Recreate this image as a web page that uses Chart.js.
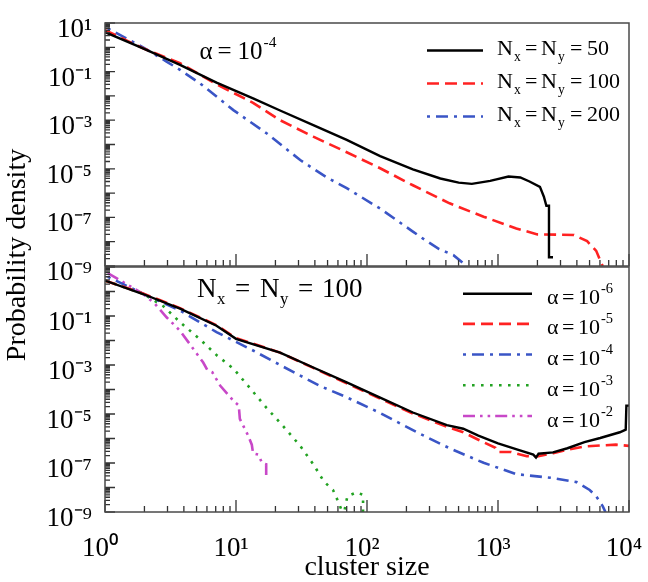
<!DOCTYPE html>
<html>
<head>
<meta charset="utf-8">
<title>Cluster size distributions</title>
<script src="https://cdn.jsdelivr.net/npm/chart.js@4.4.1/dist/chart.umd.min.js"></script>
<style>
html, body { margin:0; padding:0; background:#ffffff; }
#wrap { position:relative; width:648px; height:582px; overflow:hidden; background:#ffffff; }
#wrap canvas { position:absolute; left:0; top:0; }
</style>
</head>
<body>
<div id="wrap">
  <canvas id="bottomPanel" width="648" height="582" style="width:648px;height:582px"></canvas>
  <canvas id="topPanel" width="648" height="300" style="width:648px;height:300px"></canvas>
</div>
<script>
// ---------------- DATA ----------------
// tick labels (powers of ten)
const xTickExps = [0, 1, 2, 3, 4];
const yTickExpsTop = [1, -1, -3, -5, -7, -9];
const yTickExpsBottom = [-1, -3, -5, -7, -9];
const yDecades = [1, 0, -1, -2, -3, -4, -5, -6, -7, -8, -9];

// legend / annotation values
const topLatticeSizes = [50, 100, 200];
const topAlphaExp = -4;
const bottomLatticeSize = 100;
const bottomAlphaExps = [-6, -5, -4, -3, -2];

// top panel, alpha = 1e-4
const sizeTopN50 = [1, 1.95, 3.74, 7.1, 13.5, 21.7, 38.9, 70, 126, 224, 363, 501, 631, 871, 1202, 1480, 1740, 2090, 2240, 2340, 2450, 2450, 2630];
const probTopN50 = [4.2, 0.91, 0.19, 0.035, 7.9e-3, 2.5e-3, 6.3e-4, 1.55e-4, 3.3e-5, 9.5e-6, 4.0e-6, 2.7e-6, 2.4e-6, 3.2e-6, 4.8e-6, 4.4e-6, 3.0e-6, 1.8e-6, 7.1e-7, 3.0e-7, 3.0e-7, 2.3e-9, 2.3e-9];

const sizeTopN100 = [1, 1.95, 3.74, 7.1, 13.5, 21.7, 38.9, 70, 126, 224, 427, 776, 1380, 2000, 3800, 4790, 5620, 6170, 6310];
const probTopN100 = [5.1, 0.91, 0.22, 0.030, 5.2e-3, 1.0e-3, 2.1e-4, 4.8e-5, 1.05e-5, 2.1e-6, 3.8e-7, 1.07e-7, 3.5e-8, 2.0e-8, 1.9e-8, 1.05e-8, 4.2e-9, 1.26e-9, 1e-9];

const sizeTopN200 = [1.05, 1.95, 2.95, 3.74, 5.31, 9.55, 17.1, 30.9, 49, 70, 126, 224, 282, 355, 457, 575];
const probTopN200 = [6.0, 1.0, 0.26, 0.117, 0.033, 2.6e-3, 2.9e-4, 2.3e-5, 4.5e-6, 1.6e-6, 2.3e-7, 2.6e-8, 1.1e-8, 5.0e-9, 2.8e-9, 1e-9];

// bottom panel, Nx = Ny = 100
const sizeBotA6 = [1, 1.95, 3.74, 7.1, 10, 21.7, 38.9, 70, 126, 224, 407, 543, 708, 1000, 1410, 1860, 1950, 2040, 2630, 3390, 4570, 6030, 8510, 9440, 9550, 10000];
const probBotA6 = [2.8, 0.79, 0.2, 0.04, 0.0117, 3.2e-3, 7.9e-4, 1.95e-4, 4.7e-5, 1.15e-5, 3.5e-6, 2.5e-6, 1.3e-6, 6.3e-7, 3.5e-7, 2.2e-7, 1.66e-7, 2.4e-7, 2.7e-7, 4.0e-7, 7.1e-7, 1.05e-6, 1.8e-6, 2.3e-6, 2.2e-5, 2.2e-5];

const sizeBotA5 = [1, 1.95, 3.74, 7.1, 10, 21.7, 38.9, 70, 126, 224, 407, 543, 708, 955, 1000, 1260, 1660, 1950, 2630, 3390, 4570, 6030, 7940, 10000];
const probBotA5 = [2.8, 0.83, 0.21, 0.042, 0.0126, 3.2e-3, 7.6e-4, 1.8e-4, 4.3e-5, 1.05e-5, 3.0e-6, 1.8e-6, 8.9e-7, 4.2e-7, 2.8e-7, 2.8e-7, 1.9e-7, 1.8e-7, 2.5e-7, 3.5e-7, 4.7e-7, 5.2e-7, 5.6e-7, 5.0e-7];

const sizeBotA4 = [1.05, 1.95, 3.74, 7.1, 13.5, 21.7, 43.7, 70, 126, 251, 427, 776, 1380, 2510, 3980, 5010, 5620, 6310, 6610];
const probBotA4 = [4.0, 0.81, 0.166, 0.022, 3.9e-3, 1.0e-3, 1.4e-4, 4.8e-5, 1.1e-5, 1.6e-6, 4.0e-7, 1.02e-7, 3.5e-8, 2.5e-8, 1.66e-8, 7.9e-9, 4.4e-9, 1.7e-9, 1e-9];

const sizeBotA3 = [1, 1.95, 2.79, 3.74, 5.31, 7.13, 9.55, 12.6, 17.1, 22.9, 30.9, 38.9, 46.8, 55, 61.7, 64.6, 66, 67.6, 70.8, 83.2, 93.3, 93.3];
const probBotA3 = [2.8, 0.81, 0.25, 0.056, 0.0112, 2.5e-3, 7.1e-4, 1.26e-4, 1.78e-5, 3.2e-6, 5.0e-7, 8.9e-8, 1.78e-8, 7.9e-9, 2.0e-9, 1e-9, null, 1.26e-9, 4.4e-9, 6.3e-9, 5.0e-9, 1e-9];

const sizeBotA2 = [1.05, 1.95, 2.4, 2.95, 3.74, 4.73, 5.62, 6.03, 6.6, 7.59, 9.55, 10.5, 10.7, 12.3, 13.2, 13.5, 14.8, 15.8, 17.0, 17.0];
const probBotA2 = [5.6, 0.81, 0.32, 0.089, 0.025, 4.5e-3, 1.26e-3, 6.3e-4, 5.0e-4, 1.41e-4, 3.5e-5, 2.2e-5, 6.3e-6, 1.41e-6, 5.6e-7, 2.5e-7, 2.2e-7, 1.0e-7, 8.9e-8, 2.0e-8];

// ---------------- STYLE ----------------
const FONT = '"Liberation Serif", "Times New Roman", Times, serif';
const STY = {
  black:   { color: '#000000', width: 2.4, dash: [] },
  red:     { color: '#ff2222', width: 2.6, dash: [12, 6] },
  blue:    { color: '#3a55c6', width: 2.6, dash: [3, 6, 12, 6] },
  green:   { color: '#22a222', width: 2.6, dash: [2.6, 6.4] },
  magenta: { color: '#c848c8', width: 2.6, dash: [12, 5, 2.6, 5, 2.6, 5] }
};
const SUP = { '-': '\u207B', '0': '\u2070', '1': '\u00B9', '2': '\u00B2', '3': '\u00B3', '4': '\u2074', '5': '\u2075', '6': '\u2076', '7': '\u2077', '8': '\u2078', '9': '\u2079' };
function sup(n) { return String(n).split('').map(c => SUP[c] || c).join(''); }

function pts(xs, ys) { return xs.map((x, i) => ({ x: x, y: ys[i] })); }
function ds(label, xs, ys, st) {
  return {
    label: label, data: pts(xs, ys),
    borderColor: st.color, backgroundColor: st.color,
    borderWidth: st.width, borderDash: st.dash,
    borderCapStyle: 'butt', borderJoinStyle: 'miter',
    pointRadius: 0, pointHoverRadius: 0, fill: false, tension: 0, spanGaps: false
  };
}

function yScaleCfg(labelExps) {
  return {
    type: 'logarithmic', position: 'left', min: 1e-9, max: 10,
    afterBuildTicks(s) { s.ticks = yDecades.map(e => ({ value: Math.pow(10, e) })); },
    afterFit(s) { s.width = 105; s.paddingTop = 0; s.paddingBottom = 0; },
    grid: { display: false }, border: { display: false },
    ticks: {
      autoSkip: false, padding: 5, labelOffset: 7, color: '#000',
      font: { family: FONT, size: 27 },
      callback(v) { const e = Math.round(Math.log10(v)); return labelExps.includes(e) ? '10' + sup(e) : ''; }
    }
  };
}

function drawTokens(ctx, x, base, size, toks) {
  let cx = x;
  ctx.fillStyle = '#000';
  ctx.textAlign = 'left';
  ctx.textBaseline = 'alphabetic';
  for (const t of toks) {
    const s = size * (t.s || 1);
    ctx.font = s + 'px ' + FONT;
    if (t.at !== undefined) cx = x + t.at;
    ctx.fillText(t.t, cx, base + (t.dy || 0) * size);
    cx += ctx.measureText(t.t).width;
  }
}
function drawSample(ctx, d, x0, x1, y) {
  ctx.save();
  ctx.strokeStyle = d.borderColor;
  ctx.lineWidth = d.borderWidth;
  ctx.setLineDash(d.borderDash || []);
  ctx.lineCap = 'butt';
  ctx.beginPath(); ctx.moveTo(x0, y); ctx.lineTo(x1, y); ctx.stroke();
  ctx.restore();
}

const frameTicks = {
  id: 'frameTicks',
  afterDatasetsDraw(chart) {
    const ctx = chart.ctx, a = chart.chartArea, xs = chart.scales.x, ys = chart.scales.y;
    ctx.save();
    ctx.strokeStyle = '#333'; ctx.lineWidth = 1.3; ctx.setLineDash([]);
    ctx.beginPath();
    for (let e = -9; e <= 1; e++) {
      for (let k = 1; k <= 9; k++) {
        const v = k * Math.pow(10, e);
        if (v < 0.999e-9 || v > 10.01) continue;
        const p = ys.getPixelForValue(v);
        const len = k === 1 ? 10 : 5;
        ctx.moveTo(a.left, p); ctx.lineTo(a.left + len, p);
      }
    }
    for (let e = 0; e <= 4; e++) {
      for (let k = 1; k <= 9; k++) {
        const v = k * Math.pow(10, e);
        if (v > 10001) continue;
        const p = xs.getPixelForValue(v);
        const len = k === 1 ? 12 : 6;
        ctx.moveTo(p, a.bottom); ctx.lineTo(p, a.bottom - len);
      }
    }
    ctx.stroke();
    ctx.strokeStyle = '#4a4a4a'; ctx.lineWidth = 1.5;
    ctx.strokeRect(a.left, a.top, a.right - a.left, a.bottom - a.top);
    ctx.restore();
  }
};

function nTokens(n) {
  return [{ t: 'N' }, { t: 'x', s: 0.62, dy: 0.25, at: 17 }, { t: '=', at: 28 }, { t: 'N', at: 44 },
          { t: 'y', s: 0.62, dy: 0.25, at: 61 }, { t: '=', at: 73 }, { t: String(n), at: 90 }];
}

const topDecor = {
  id: 'topDecor',
  afterDraw(chart) {
    const ctx = chart.ctx;
    ctx.save();
    drawTokens(ctx, 199.5, 58.5, 25, [{ t: '\u03B1' }, { t: '=', at: 18 }, { t: '10', at: 38 },
      { t: String(topAlphaExp), s: 0.62, dy: -0.48, at: 64 }]);
    const rows = [50.5, 83.5, 116.5];
    rows.forEach((yy, i) => {
      drawSample(ctx, chart.data.datasets[i], 427, 483, yy);
      drawTokens(ctx, 497, yy + 4.5, 22, nTokens(topLatticeSizes[i]));
    });
    ctx.restore();
  }
};

const bottomDecor = {
  id: 'bottomDecor',
  afterDraw(chart) {
    const ctx = chart.ctx;
    ctx.save();
    drawTokens(ctx, 197, 297, 27, [{ t: 'N' }, { t: 'x', s: 0.62, dy: 0.25, at: 20 }, { t: '=', at: 38 },
      { t: 'N', at: 63 }, { t: 'y', s: 0.62, dy: 0.25, at: 83 }, { t: '=', at: 101 }, { t: String(bottomLatticeSize), at: 125 }]);
    const rows = [293.7, 323.9, 354.5, 385.3, 416];
    rows.forEach((yy, i) => {
      drawSample(ctx, chart.data.datasets[i], 463, 532, yy);
      drawTokens(ctx, 547, yy + 10.5, 22, [{ t: '\u03B1' }, { t: '=', at: 15 }, { t: '10', at: 31 },
        { t: String(bottomAlphaExps[i]), s: 0.66, dy: -0.5, at: 54 }]);
    });
    // shared y-axis title
    ctx.save();
    ctx.translate(18, 255);
    ctx.rotate(-Math.PI / 2);
    ctx.font = '28px ' + FONT;
    ctx.fillStyle = '#000';
    ctx.textAlign = 'center';
    ctx.textBaseline = 'middle';
    ctx.fillText('Probability density', 0, 0);
    ctx.restore();
    ctx.restore();
  }
};

const common = {
  responsive: false, animation: false, devicePixelRatio: 1,
  events: [],
  plugins: { legend: { display: false }, tooltip: { enabled: false }, title: { display: false } }
};

// top panel
new Chart(document.getElementById('topPanel'), {
  type: 'line',
  data: {
    datasets: [
      ds('Nx = Ny = 50', sizeTopN50, probTopN50, STY.black),
      ds('Nx = Ny = 100', sizeTopN100, probTopN100, STY.red),
      ds('Nx = Ny = 200', sizeTopN200, probTopN200, STY.blue)
    ]
  },
  options: Object.assign({}, common, {
    layout: { padding: { left: 0, right: 19, top: 23, bottom: 34 } },
    scales: {
      x: { type: 'logarithmic', min: 1, max: 10000, display: false },
      y: yScaleCfg(yTickExpsTop)
    }
  }),
  plugins: [frameTicks, topDecor]
});

// bottom panel
new Chart(document.getElementById('bottomPanel'), {
  type: 'line',
  data: {
    datasets: [
      ds('\u03B1 = 10\u207B\u2076', sizeBotA6, probBotA6, STY.black),
      ds('\u03B1 = 10\u207B\u2075', sizeBotA5, probBotA5, STY.red),
      ds('\u03B1 = 10\u207B\u2074', sizeBotA4, probBotA4, STY.blue),
      ds('\u03B1 = 10\u207B\u00B3', sizeBotA3, probBotA3, STY.green),
      ds('\u03B1 = 10\u207B\u00B2', sizeBotA2, probBotA2, STY.magenta)
    ]
  },
  options: Object.assign({}, common, {
    layout: { padding: { left: 0, right: 19, top: 267, bottom: 0 } },
    scales: {
      x: {
        type: 'logarithmic', min: 1, max: 10000, position: 'bottom',
        afterBuildTicks(s) { s.ticks = xTickExps.map(e => ({ value: Math.pow(10, e) })); },
        afterFit(s) { s.height = 70; s.paddingLeft = 0; s.paddingRight = 0; },
        grid: { display: false }, border: { display: false },
        ticks: {
          autoSkip: false, maxRotation: 0, minRotation: 0, padding: 13, labelOffset: -5, color: '#000',
          font: { family: FONT, size: 27 },
          callback(v) { const e = Math.round(Math.log10(v)); return '10' + sup(e); }
        },
        title: { display: true, text: 'cluster size', color: '#000', padding: { top: 0, bottom: 0 },
                 font: { family: FONT, size: 28, lineHeight: 1 } }
      },
      y: yScaleCfg(yTickExpsBottom)
    }
  }),
  plugins: [frameTicks, bottomDecor]
});
</script>
</body>
</html>
